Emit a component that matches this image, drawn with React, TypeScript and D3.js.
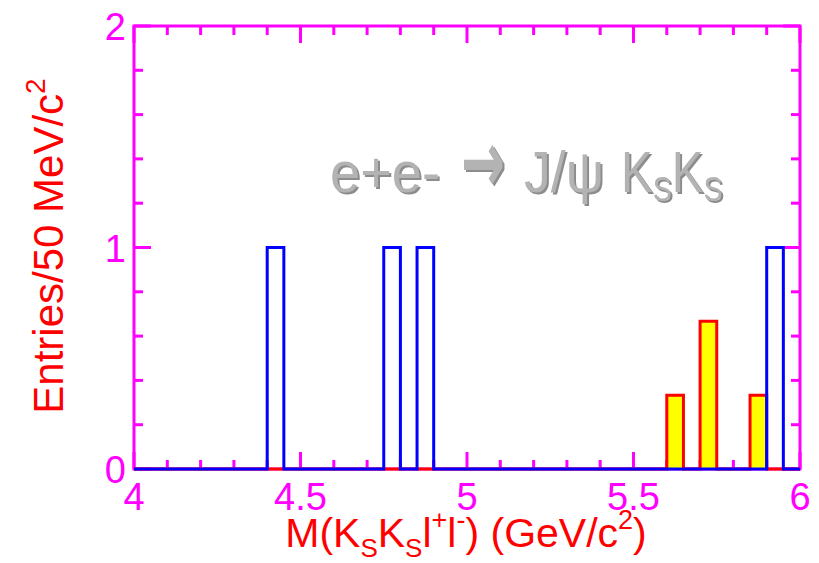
import React from "react";
import * as d3 from "d3";

// Histogram range and binning (GeV/c^2)
const massMin = 4.0;
const massMax = 6.0;
const binWidth = 0.05;

// Signal-region candidates: bin low edges and entries
const signalBinLow = [4.40, 4.75, 4.85, 5.90];
const signalEntries = [1, 1, 1, 1];

// Scaled sideband estimate: bin low edges and weights
const sidebandBinLow = [5.60, 5.70, 5.85];
const sidebandWeights = [1 / 3, 2 / 3, 1 / 3];

// Axis tick labels
const xTickLabels = ["4", "4.5", "5", "5.5", "6"];
const yTickLabels = ["0", "1", "2"];

const W = 819;
const H = 563;
const MAGENTA = "#ff00ff";
const FONT = "'Liberation Sans', Arial, Helvetica, sans-serif";

const nBins = Math.round((massMax - massMin) / binWidth);

function fillHist(lows: number[], vals: number[]): number[] {
  const h = new Array(nBins).fill(0);
  lows.forEach((m, i) => {
    const b = Math.round((m - massMin) / binWidth);
    if (b >= 0 && b < nBins) h[b] += vals[i];
  });
  return h;
}

const signalHist = fillHist(signalBinLow, signalEntries);
const sidebandHist = fillHist(sidebandBinLow, sidebandWeights);

// Process label; the drop shadow comes from an SVG filter
function ProcessLabel() {
  const base = 192;
  const kx = 621;
  return (
    <g fill="#b3b3b3" fontFamily={FONT} filter="url(#labelShadow)">
      <text x={330} y={base} fontSize={58} textLength={110} lengthAdjust="spacingAndGlyphs">
        e+e-
      </text>
      <text
        x={0}
        y={0}
        fontFamily="'DejaVu Sans', sans-serif"
        fontWeight="bold"
        fontSize={50}
        textLength={44}
        lengthAdjust="spacingAndGlyphs"
        transform={`translate(461,${base}) scale(1,1.75)`}
      >
        {"\u2192"}
      </text>
      <text x={524} y={base} fontSize={58} textLength={80} lengthAdjust="spacingAndGlyphs">
        {"J/\u03c8"}
      </text>
      <text
        x={kx}
        y={base}
        fontSize={58}
        transform={`translate(${kx},0) scale(0.82,1) translate(${-kx},0)`}
      >
        K
        <tspan fontSize={35} dy={9}>S</tspan>
        <tspan dy={-9}>K</tspan>
        <tspan fontSize={35} dy={9}>S</tspan>
      </text>
    </g>
  );
}

export default function App() {
  const x = d3.scaleLinear().domain([massMin, massMax]).range([134, 800]);
  const y = d3.scaleLinear().domain([0, 2]).range([469, 26]);

  const stepLine = d3
    .line<[number, number]>()
    .x((d) => x(d[0]))
    .y((d) => y(d[1]))
    .curve(d3.curveStepAfter);

  const outline = (h: number[]) =>
    stepLine([
      [massMin, 0],
      ...h.map((v, i) => [massMin + i * binWidth, v] as [number, number]),
      [massMax, 0],
    ]) as string;

  const xMinor = d3.range(0, 21).map((i) => massMin + i * 0.1);
  const yMinor = d3.range(0, 11).map((i) => i * 0.2);
  const xMajorVals = xTickLabels.map(Number);
  const yMajorVals = yTickLabels.map(Number);

  const [x0, x1] = x.range();
  const [y0, y1] = y.range();

  return (
    <svg
      width={W}
      height={H}
      style={{ position: "absolute", left: 0, top: 0, background: "#fff" }}
    >
      <defs>
        <filter id="labelShadow" x="-10%" y="-20%" width="120%" height="140%">
          <feOffset in="SourceAlpha" dx={1.5} dy={1.5} result="off" />
          <feFlood floodColor="#8c8c8c" />
          <feComposite in2="off" operator="in" result="shadow" />
          <feMerge>
            <feMergeNode in="shadow" />
            <feMergeNode in="SourceGraphic" />
          </feMerge>
        </filter>
      </defs>

      {/* frame */}
      <rect
        x={x0}
        y={y1}
        width={x1 - x0}
        height={y0 - y1}
        fill="none"
        stroke={MAGENTA}
        strokeWidth={3}
      />
      {/* x ticks, bottom and top */}
      {xMinor.map((v, i) => {
        const major = i % 5 === 0;
        const len = major ? 17 : 9;
        return (
          <g key={"xt" + i} stroke={MAGENTA} strokeWidth={3}>
            <line x1={x(v)} x2={x(v)} y1={y0} y2={y0 - len} />
            <line x1={x(v)} x2={x(v)} y1={y1} y2={y1 + len} />
          </g>
        );
      })}
      {/* y ticks, left and right */}
      {yMinor.map((v, i) => {
        const major = i % 5 === 0;
        const len = major ? 17 : 9;
        return (
          <g key={"yt" + i} stroke={MAGENTA} strokeWidth={3}>
            <line x1={x0} x2={x0 + len} y1={y(v)} y2={y(v)} />
            <line x1={x1} x2={x1 - len} y1={y(v)} y2={y(v)} />
          </g>
        );
      })}

      {/* sideband histogram: yellow fill with red outline */}
      {sidebandHist.map((v, i) =>
        v > 0 ? (
          <rect
            key={"sb" + i}
            x={x(massMin + i * binWidth)}
            y={y(v)}
            width={x(massMin + (i + 1) * binWidth) - x(massMin + i * binWidth)}
            height={y(0) - y(v)}
            fill="#ffff00"
          />
        ) : null
      )}
      <path d={outline(sidebandHist)} fill="none" stroke="#ff0000" strokeWidth={3} />

      {/* signal histogram outline */}
      <path d={outline(signalHist)} fill="none" stroke="#0000ff" strokeWidth={3} />

      {/* tick labels */}
      {xMajorVals.map((v, i) => (
        <text
          key={"xl" + i}
          x={x(v)}
          y={510}
          textAnchor="middle"
          fontFamily={FONT}
          fontSize={38}
          fill={MAGENTA}
        >
          {xTickLabels[i]}
        </text>
      ))}
      {yMajorVals.map((v, i) => (
        <text
          key={"yl" + i}
          x={126}
          y={y(v) + 14}
          textAnchor="end"
          fontFamily={FONT}
          fontSize={38}
          fill={MAGENTA}
        >
          {yTickLabels[i]}
        </text>
      ))}

      {/* axis titles */}
      <text
        x={466}
        y={547}
        textAnchor="middle"
        fontFamily={FONT}
        fontSize={41}
        fill="#ff0000"
      >
        M(K
        <tspan fontSize={26} dy={10}>S</tspan>
        <tspan dy={-10}>K</tspan>
        <tspan fontSize={26} dy={10}>S</tspan>
        <tspan dy={-10}>l</tspan>
        <tspan fontSize={27} dy={-18}>+</tspan>
        <tspan dy={18}>l</tspan>
        <tspan fontSize={27} dy={-18}>-</tspan>
        <tspan dy={18}>) (GeV/c</tspan>
        <tspan fontSize={27} dy={-18}>2</tspan>
        <tspan dy={18}>)</tspan>
      </text>
      <text
        transform="translate(63,246) rotate(-90)"
        textAnchor="middle"
        fontFamily={FONT}
        fontSize={42}
        fill="#ff0000"
      >
        Entries/50 MeV/c
        <tspan fontSize={28} dy={-18}>2</tspan>
      </text>

      {/* process label */}
      <ProcessLabel />
    </svg>
  );
}
